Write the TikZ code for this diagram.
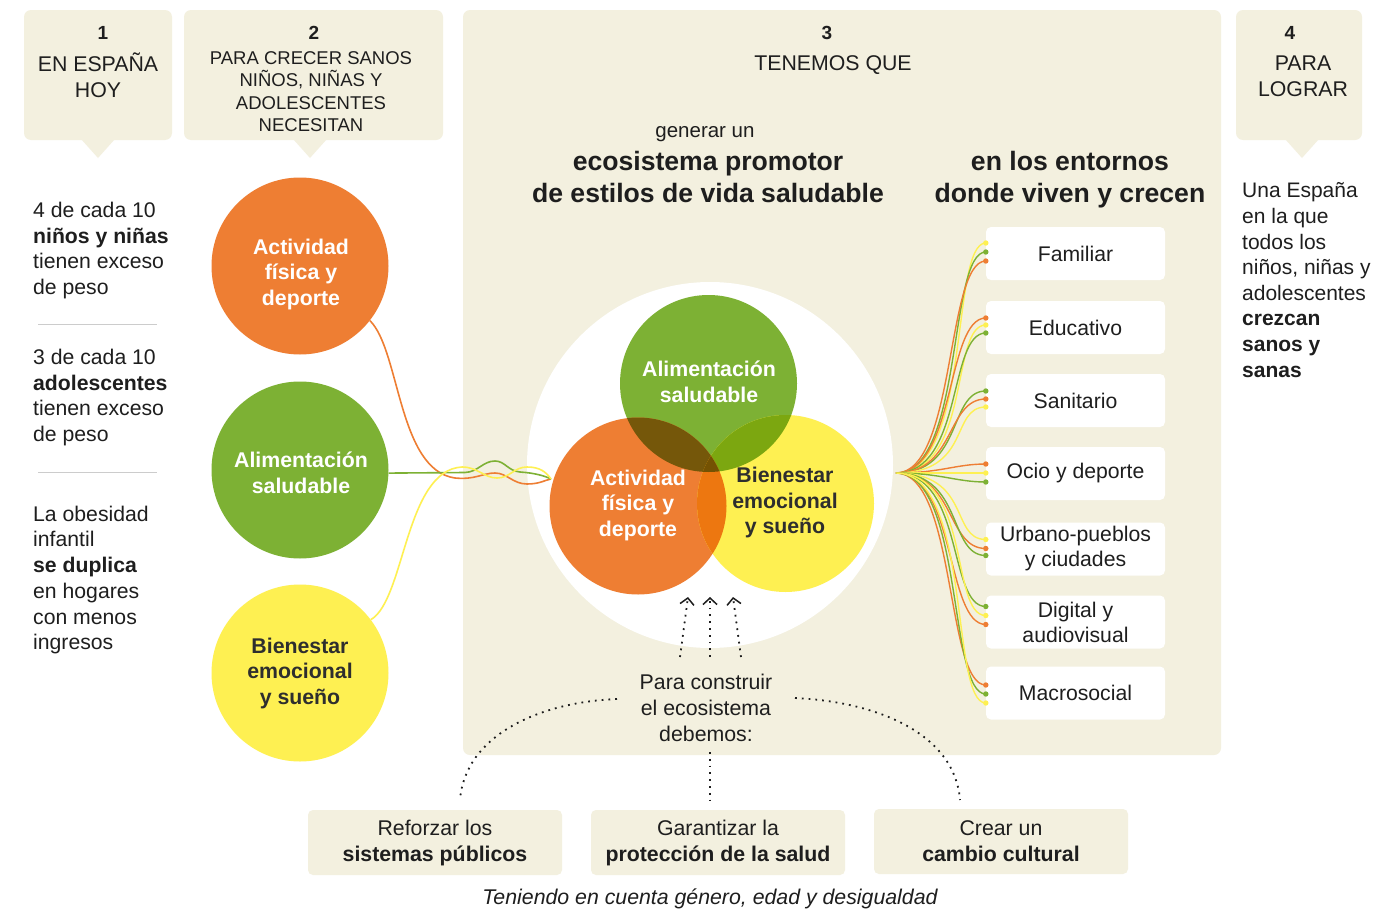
\documentclass[tikz,border=0pt]{standalone}
\usepackage{fontspec}
\setmainfont{Liberation Sans}
\usetikzlibrary{arrows.meta}
\definecolor{beige}{HTML}{F3F0DF}
\definecolor{cor}{HTML}{EE7E33}
\definecolor{cgr}{HTML}{7DB134}
\definecolor{cye}{HTML}{FEF052}
\definecolor{cog}{HTML}{75570A}
\definecolor{cgy}{HTML}{7CA710}
\definecolor{coy}{HTML}{ED7710}
\definecolor{cogy}{HTML}{745203}
\definecolor{txt}{HTML}{1E1E1E}
\definecolor{dtxt}{HTML}{2E2E2E}
\definecolor{sepc}{HTML}{CCCCCC}
\newcommand\myfs[2]{\fontsize{#1}{#2}\selectfont}
\begin{document}
\begin{tikzpicture}[x=1pt,y=-1pt,
  panel/.style={fill=beige, rounded corners=7pt},
  tx/.style={inner sep=0pt, align=center, text=txt, font=\myfs{21.3}{25.7}},
  txl/.style={inner sep=0pt, align=left, text=txt, font=\myfs{21.2}{25.7}, anchor=west},
  num/.style={inner sep=0pt, text=txt, font=\myfs{19}{22}\bfseries},
  bigb/.style={inner sep=0pt, align=center, text=txt, font=\myfs{26.6}{32}\bfseries},
  disc/.style={circle, minimum size=177pt, inner sep=0pt},
  ctw/.style={inner sep=0pt, align=center, text=white, font=\myfs{21.3}{25.5}\bfseries},
  ctd/.style={inner sep=0pt, align=center, text=dtxt, font=\myfs{21.3}{25.5}\bfseries},
  envbox/.style={fill=white, rounded corners=5pt, minimum width=179pt, minimum height=53pt, inner sep=0pt, align=center, text=txt, font=\myfs{21.2}{25}},
  actbox/.style={fill=beige, rounded corners=5pt, minimum width=254pt, minimum height=65pt, inner sep=0pt, align=center, text=txt, font=\myfs{21.3}{26}},
  link/.style={line width=1.6pt},
  fanline/.style={line width=1.4pt},
  dots/.style={line width=1.8pt, dash pattern=on 1.8pt off 5pt, color=txt},
  upar/.style={dots, -{Straight Barb[length=6.5pt,width=14pt,line width=1.5pt]}}
]
\useasboundingbox (0,0) rectangle (1374,910);
\fill[white] (0,0) rectangle (1374,910);

% panels and tabs
\fill[panel] (24,10) rectangle (172,140);
\fill[beige] (81,139) -- (98,158) -- (115,139) -- cycle;
\fill[panel] (184,10) rectangle (443,140);
\fill[beige] (293,139) -- (310,158) -- (327,139) -- cycle;
\fill[panel] (463,10) rectangle (1221,755);
\fill[panel] (1236,10) rectangle (1362,140);
\fill[beige] (1285,139) -- (1302,158) -- (1319,139) -- cycle;

% tab texts
\node[num] (n1) at (103,33) {1};
\node[tx] (h1) at (98,75.5) {EN ESPAÑA\\HOY};
\node[num] (n2) at (314,33) {2};
\node[tx, font=\myfs{18.5}{22.5}] (h2) at (311,91.5) {PARA CRECER SANOS\\NIÑOS, NIÑAS Y\\ADOLESCENTES\\NECESITAN};
\node[num] (n3) at (827,33) {3};
\node[tx] (h3) at (833,65) {TENEMOS QUE};
\node[num] (n4) at (1290,33) {4};
\node[tx] (h4) at (1303,76) {PARA\\LOGRAR};

% left column
\node[txl] (t1) at (33,250.5) {4 de cada 10\\\textbf{niños y niñas}\\tienen exceso\\de peso};
\draw[sepc, line width=1pt] (38,324) -- (157,324);
\node[txl] (t2) at (33,397.5) {3 de cada 10\\\textbf{adolescentes}\\tienen exceso\\de peso};
\draw[sepc, line width=1pt] (38,472) -- (157,472);
\node[txl] (t3) at (33,580) {La obesidad\\infantil\\\textbf{se duplica}\\en hogares\\con menos\\ingresos};

% right column
\node[txl, font=\myfs{21}{25.6}] (t4) at (1242,280) {Una España\\en la que\\todos los\\niños, niñas y\\adolescentes\\\textbf{crezcan}\\\textbf{sanos y}\\\textbf{sanas}};

% left discs
\node[disc, fill=cor] (lo) at (300,266) {};
\node[disc, fill=cgr] (lg) at (300,470) {};
\node[disc, fill=cye] (ly) at (300,673) {};
\node[ctw] (lot) at (301,274) {Actividad\\física y\\deporte};
\node[ctw] (lgt) at (301,473) {Alimentación\\saludable};
\node[ctd] (lyt) at (300,673) {Bienestar\\emocional\\y sueño};

% panel 3 headings
\node[tx, font=\myfs{20.5}{24}] (gu) at (705,134.5) {generar un};
\node[bigb] (eco) at (708,177) {ecosistema promotor\\de estilos de vida saludable};
\node[bigb] (ent) at (1070,180) {en los entornos\\donde viven y crecen};

% venn
\coordinate (vc) at (710,465);
\coordinate (vgc) at (708.5,383.5);
\coordinate (voc) at (638,506);
\coordinate (vyc) at (785.5,503.5);
\fill[white] (vc) circle[radius=183];

\coordinate (vin) at (551,479);
\draw[link, cor] (lo.-38) .. controls (400,350) and (398,470) .. (455,478)
  .. controls (475,480) and (483,473) .. (495,473)
  .. controls (507,473) and (513,484) .. (527,484)
  .. controls (540,484) and (545,480) .. (vin);
\draw[link, cgr] (lg.-2) -- (465,472.5)
  .. controls (478,472) and (483,461) .. (495,461)
  .. controls (505,461) and (508,471) .. (520,472)
  .. controls (535,473) and (545,476) .. (vin);
\draw[link, cye] (ly.37) .. controls (405,600) and (405,470) .. (462,467)
  .. controls (478,467) and (484,478) .. (497,478)
  .. controls (510,478) and (514,467) .. (527,467)
  .. controls (540,467) and (546,472) .. (vin);

\fill[cgr] (vgc) circle[radius=88.5];
\fill[cor] (voc) circle[radius=88.5];
\fill[cye] (vyc) circle[radius=88.5];
\begin{scope}\clip (voc) circle[radius=88.5]; \fill[cog] (vgc) circle[radius=88.5];\end{scope}
\begin{scope}\clip (vgc) circle[radius=88.5]; \fill[cgy] (vyc) circle[radius=88.5];\end{scope}
\begin{scope}\clip (voc) circle[radius=88.5]; \fill[coy] (vyc) circle[radius=88.5];\end{scope}
\begin{scope}\clip (voc) circle[radius=88.5]; \clip (vgc) circle[radius=88.5]; \fill[cogy] (vyc) circle[radius=88.5];\end{scope}
\node[ctw] (vgt) at (709,382) {Alimentación\\saludable};
\node[ctw] (vot) at (638,505) {Actividad\\física y\\deporte};
\node[ctd] (vyt) at (785,502.5) {Bienestar\\emocional\\y sueño};

% environment boxes
\node[envbox] (f1) at (1075.5,253.5) {Familiar};
\node[envbox] (f2) at (1075.5,327.5) {Educativo};
\node[envbox] (f3) at (1075.5,400.5) {Sanitario};
\node[envbox] (f4) at (1075.5,473.5) {Ocio y deporte};
\node[envbox] (f5) at (1075.5,549) {Urbano-pueblos\\y ciudades};
\node[envbox] (f6) at (1075.5,622) {Digital y\\audiovisual};
\node[envbox] (f7) at (1075.5,693) {Macrosocial};

% fan
\coordinate (fan) at (896,473);
\foreach \b/\s/\c/\ca/\cb in {
  f1/10.5/cye/76/36, f1/1.5/cgr/68/38, f1/-7.5/cor/60/40,
  f2/9.5/cor/60/40, f2/2.5/cye/76/36, f2/-5.5/cgr/68/38,
  f3/9.5/cgr/68/38, f3/1.5/cor/60/40, f3/-6.5/cye/76/36,
  f4/9.5/cor/45/30, f4/0.5/cye/55/40, f4/-8.5/cgr/45/30,
  f5/9.5/cye/76/36, f5/0.5/cor/60/40, f5/-6.5/cgr/68/38,
  f6/15.5/cgr/68/38, f6/6.5/cye/76/36, f6/-2.5/cor/60/40,
  f7/8/cor/60/40, f7/-1/cgr/68/38, f7/-10/cye/76/36}{
  \draw[fanline, \c] (fan) .. controls +(\ca,0) and +(-\cb,0) .. ([yshift=\s pt]\b.west) coordinate (fe);
  \fill[\c] (fe) circle[radius=2.7];
}

% bottom
\node[tx, font=\myfs{21.3}{26}] (pc) at (706,708) {Para construir\\el ecosistema\\debemos:};
\coordinate (a1s) at (680,657); \coordinate (a1e) at (688,597);
\coordinate (a2s) at (710,657); \coordinate (a2e) at (710,597);
\coordinate (a3s) at (741,657); \coordinate (a3e) at (733,597);
\draw[upar] (a1s) -- (a1e);
\draw[upar] (a2s) -- (a2e);
\draw[upar] (a3s) -- (a3e);

\node[actbox] (b1) at (435,842.5) {Reforzar los\\\textbf{sistemas públicos}};
\node[actbox] (b2) at (718,842.5) {Garantizar la\\\textbf{protección de la salud}};
\node[actbox] (b3) at (1001,841.5) {Crear un\\\textbf{cambio cultural}};

\coordinate (dl) at (617,699); \coordinate (dle) at (460,800);
\coordinate (dr) at (795,698); \coordinate (dre) at (960,800);
\coordinate (dm) at (710,752); \coordinate (dme) at (710,800);
\draw[dots] (dl) .. controls (540,702) and (465,735) .. (dle);
\draw[dots] (dr) .. controls (880,702) and (955,735) .. (dre);
\draw[dots] (dm) -- (dme);

\node[tx, font=\myfs{21.3}{24}\itshape] (ft) at (710,899) {Teniendo en cuenta género, edad y desigualdad};
\end{tikzpicture}
\end{document}
